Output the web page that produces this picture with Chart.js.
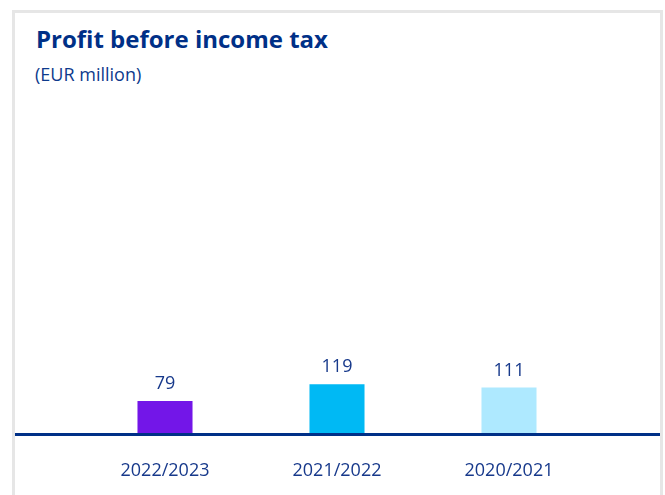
<!DOCTYPE html>
<html>
<head>
<meta charset="utf-8">
<title>Profit before income tax</title>
<script src="https://cdn.jsdelivr.net/npm/chart.js@4/dist/chart.umd.min.js"></script>
<style>
  html, body { margin: 0; padding: 0; background: #fff; }
  body { width: 665px; height: 495px; position: relative; overflow: hidden; font-family: "Open Sans", sans-serif; }
  .panel {
    position: absolute; left: 12px; top: 10px; width: 651px; height: 485px;
    box-sizing: border-box; border: 3px solid #e6e6e6; border-bottom: none; background: #fff;
  }
  .title { position: absolute; left: 21px; top: 14px; margin: 0; font-size: 24px; line-height: 24px; font-weight: 700; color: #003087; white-space: nowrap; }
  .sub { position: absolute; left: 20px; top: 52px; margin: 0; font-size: 18px; line-height: 18px; color: #0d3a8c; white-space: nowrap; }
  .wrap { position: absolute; left: 0; top: 87px; width: 645px; height: 395px; }
</style>
</head>
<body>
<div class="panel">
  <h1 class="title">Profit before income tax</h1>
  <p class="sub">(EUR million)</p>
  <div class="wrap"><canvas id="chart"></canvas></div>
</div>
<script>
// Profit before income tax, EUR million, newest year first
const categories = ['2022/2023', '2021/2022', '2020/2021'];
const profitValues = [79, 119, 111];
const barColors = ['#7316e8', '#00b9f4', '#aee9ff'];

const navy = '#003087';
const textColor = '#17398b';
const font = (size, weight) => ({ family: '"Open Sans", sans-serif', size, weight: weight || 'normal' });

// full-width zero line, drawn over the bar bottoms
const baseLine = {
  id: 'baseLine',
  afterDatasetsDraw(chart){
    const {ctx, scales:{y}} = chart;
    const py = Math.round(y.getPixelForValue(0)) + 0.5;
    ctx.save();
    ctx.strokeStyle = navy;
    ctx.lineWidth = 3;
    ctx.beginPath();
    ctx.moveTo(0, py);
    ctx.lineTo(chart.width, py);
    ctx.stroke();
    ctx.restore();
  }
};

// value above each bar
const valueLabels = {
  id: 'valueLabels',
  afterDatasetsDraw(chart){
    const {ctx} = chart;
    const meta = chart.getDatasetMeta(0);
    ctx.save();
    ctx.font = '18px "Open Sans", sans-serif';
    ctx.fillStyle = textColor;
    ctx.textAlign = 'center';
    ctx.textBaseline = 'alphabetic';
    meta.data.forEach((bar, i)=>{
      ctx.fillText(String(profitValues[i]), bar.x, bar.y - 12);
    });
    ctx.restore();
  }
};

new Chart(document.getElementById('chart'), {
  type: 'bar',
  data: {
    labels: categories,
    datasets: [{ data: profitValues, backgroundColor: barColors, borderWidth: 0, barPercentage: 0.32, categoryPercentage: 1 }]
  },
  options: {
    responsive: true,
    maintainAspectRatio: false,
    animation: false,
    layout: { padding: { top: 20, left: 64, right: 65, bottom: 0 } },
    plugins: { legend: { display: false }, tooltip: { enabled: false } },
    scales: {
      x: {
        grid: { display: false },
        border: { display: false },
        ticks: { color: textColor, font: font(18), padding: 18, maxRotation: 0 },
        afterFit: (s)=>{ s.height = 61; }
      },
      y: { display: false, min: 0, max: 750 }
    }
  },
  plugins: [baseLine, valueLabels]
});
</script>
</body>
</html>
